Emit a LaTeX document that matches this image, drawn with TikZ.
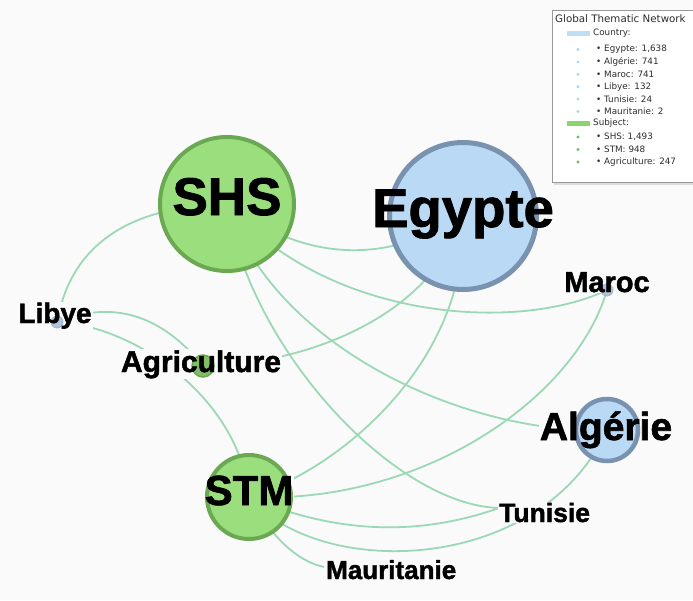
\documentclass[tikz,border=0pt]{standalone}
\usepackage{fontspec}
\setmainfont{Liberation Sans}
\newfontfamily\lblfont{Liberation Sans Bold}[FakeBold=1.6]
\newfontfamily\legfont{DejaVu Sans}
\pgfdeclarelayer{bglayer}
\pgfdeclarelayer{edgelayer}
\pgfdeclarelayer{lblbglayer}
\pgfsetlayers{bglayer,edgelayer,lblbglayer,main}
\definecolor{edgecol}{RGB}{155,216,182}
\definecolor{greenfill}{RGB}{155,222,125}
\definecolor{greenring}{RGB}{106,168,82}
\definecolor{bluefill}{RGB}{186,217,245}
\definecolor{bluering}{RGB}{120,146,176}
\definecolor{smallblue}{RGB}{168,188,218}
\definecolor{bgcol}{RGB}{250,250,250}
\definecolor{legblue}{RGB}{190,222,246}
\definecolor{leggreen}{RGB}{140,212,110}
\definecolor{legdotblue}{RGB}{172,212,236}
\definecolor{legdotgreen}{RGB}{112,192,86}
\definecolor{legtext}{RGB}{45,45,45}
\newcommand\nlabel[5][base]{%
  \begin{pgfonlayer}{lblbglayer}
    \node[lblbg, anchor=#1, font=\lblfont\fontsize{#4}{#4}\selectfont] at (#3) {#5};
  \end{pgfonlayer}
  \node[lbltext, anchor=#1, font=\lblfont\fontsize{#4}{#4}\selectfont] (#2) at (#3) {#5};}
\newcommand\legrow[4]{%
  \node[legdot, fill=#3] (#1d) at (578,#2) {};
  \node[legitem] (#1t) at (596,#2) {• #4};}
\begin{document}
\begin{tikzpicture}[x=1pt,y=-1pt,
  edge/.style={draw=edgecol, line width=1.8pt},
  gnode/.style={circle, fill=greenfill, draw=greenring, line width=4pt, inner sep=0pt, minimum size=#1},
  bnode/.style={circle, fill=bluefill, draw=bluering, line width=4.5pt, inner sep=0pt, minimum size=#1},
  snodeb/.style={circle, fill=smallblue, draw=smallblue!80!gray, line width=0.8pt, opacity=0.9, inner sep=0pt, minimum size=12pt},
  snodeg/.style={circle, fill=greenfill!85!black, draw=greenring, line width=1.5pt, inner sep=0pt, minimum size=22pt},
  lblbg/.style={fill=bgcol, text=bgcol, inner sep=1pt},
  lbltext/.style={text=black, inner sep=1pt},
  legdot/.style={circle, inner sep=0pt, minimum size=3.2pt},
  legitem/.style={anchor=west, inner sep=0pt, text=legtext, font=\legfont\fontsize{8.8}{9}\selectfont},
  leghead/.style={anchor=west, inner sep=0pt, text=legtext, font=\legfont\fontsize{10.3}{11}\selectfont},
  legbar/.style={rectangle, inner sep=0pt, minimum width=23pt, minimum height=4.5pt}]
\begin{pgfonlayer}{bglayer}
\fill[bgcol] (0,0) rectangle (693,600);
\end{pgfonlayer}
\useasboundingbox (0,0) rectangle (693,600);

% node circles
\node[gnode=134pt] (SHS) at (227,204) {};
\node[bnode=147pt, line width=5pt] (Egypte) at (463,216) {};
\node[bnode=62pt] (Algerie) at (607,430) {};
\node[gnode=84pt] (STM) at (249,497) {};
\node[snodeg] (Agri) at (203,366) {};
\node[snodeb] (Libye) at (57,322) {};
\node[snodeb] (Maroc) at (607,290) {};
\coordinate (Tunisie) at (499,508);
\coordinate (Mauritanie) at (324,567);

% edges
\begin{pgfonlayer}{edgelayer}
\draw[edge] (SHS.center) .. controls (127.7,206.3) and (71,245.3) .. (Libye.center);
\draw[edge] (SHS.center) .. controls (305.7,261.3) and (384.3,265.3) .. (Egypte.center);
\draw[edge] (SHS.center) .. controls (330,322) and (520,332) .. (Maroc.center);
\draw[edge] (SHS.center) .. controls (275,350) and (470,435) .. (Algerie.center);
\draw[edge] (SHS.center) .. controls (250,350) and (395,505) .. (Tunisie);
\draw[edge] (Libye.center) .. controls (137,326) and (240,400) .. (STM.center);
\draw[edge] (STM.center) .. controls (340,470) and (470,360) .. (Egypte.center);
\draw[edge] (STM.center) .. controls (420,505) and (575,400) .. (Maroc.center);
\draw[edge] (STM.center) .. controls (333.7,533.3) and (417,537) .. (Tunisie);
\draw[edge] (STM.center) .. controls (320,580) and (540,575) .. (Algerie.center);
\draw[edge] (STM.center) .. controls (272,537.7) and (297,561) .. (Mauritanie);
\draw[edge] (Libye.center) .. controls (112.3,299.7) and (161,314.3) .. (Agri.center);
\draw[edge] (Egypte.center) .. controls (430,320) and (300,365) .. (Agri.center);
\end{pgfonlayer}

% labels
\nlabel{SHSlbl}{227,215}{53}{SHS}
\nlabel{Egyptelbl}{463,227}{54.5}{Egypte}
\nlabel{Algerielbl}{606,440}{39}{Algérie}
\nlabel{STMlbl}{249,505}{42}{STM}
\nlabel{Libyelbl}{55,323}{28}{Libye}
\nlabel{Agrilbl}{201,372}{30}{Agriculture}
\nlabel{Maroclbl}{607,292}{29}{Maroc}
\nlabel[base west]{Tunisielbl}{498,522}{26.5}{Tunisie}
\nlabel[base west]{Mauritanielbl}{325,579}{26}{Mauritanie}

% legend
\fill[black!25, opacity=0.5] (554,12) rectangle (700,184.5);
\draw[fill=white, draw=black!40, line width=0.8pt] (552,10) rectangle (700,182);
\node[leghead] (legtitle) at (555,19) {Global Thematic Network};
\node[legbar, fill=legblue] (cbar) at (578.5,33.5) {};
\node[legitem] (ctitle) at (593,33.5) {Country:};
\legrow{eg}{49.5}{legdotblue}{Egypte: 1,638}
\legrow{al}{61.9}{legdotblue}{Algérie: 741}
\legrow{ma}{74.3}{legdotblue}{Maroc: 741}
\legrow{li}{86.7}{legdotblue}{Libye: 132}
\legrow{tu}{99.1}{legdotblue}{Tunisie: 24}
\legrow{mt}{111.5}{legdotblue}{Mauritanie: 2}
\node[legbar, fill=leggreen] (sbar) at (578.5,123.5) {};
\node[legitem] (stitle) at (593,123.5) {Subject:};
\legrow{sh}{137}{legdotgreen}{SHS: 1,493}
\legrow{st}{149.5}{legdotgreen}{STM: 948}
\legrow{ag}{162}{legdotgreen}{Agriculture: 247}
\end{tikzpicture}
\end{document}
